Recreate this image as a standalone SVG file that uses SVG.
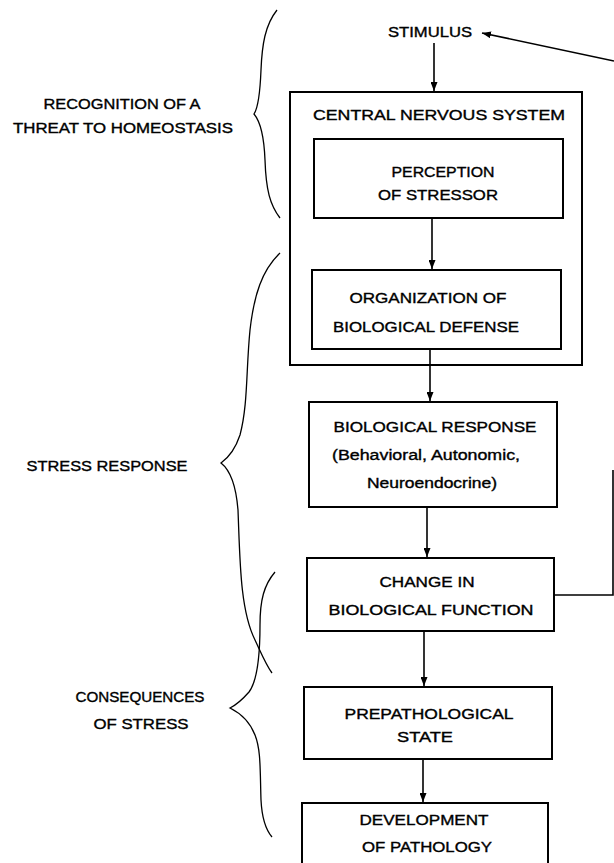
<svg xmlns="http://www.w3.org/2000/svg" width="614" height="863" viewBox="0 0 614 863">
<style>
text{font-family:"Liberation Sans",Arial,sans-serif;font-size:14px;fill:#000;stroke:#000;stroke-width:0.35;text-anchor:middle;}
.box{fill:none;stroke:#000;stroke-width:2;}
.conn{fill:none;stroke:#000;stroke-width:1.6;}
.brace{fill:none;stroke:#000;stroke-width:1.3;}
</style>
<defs>
<marker id="ah" viewBox="0 0 9 7" refX="9" refY="3.5" markerWidth="9" markerHeight="7" markerUnits="userSpaceOnUse" orient="auto">
<path d="M0,0 L9,3.5 L0,7 Z" fill="#000"/>
</marker>
</defs>
<rect width="614" height="863" fill="#fff"/>

<g id="braces">
<path class="brace" d="M277,10 C265,25 262,45 261,70 C260,95 258,108 254,114 C259,120 264,135 265,160 C266,190 270,205 280,218"/>
<path class="brace" d="M280,253 C262,270 254,295 250,330 C246,370 248,405 240,435 C235,450 228,458 221,463 C230,470 236,485 238,510 C240,560 240,610 255,640 C262,655 266,665 272,673"/>
<path class="brace" d="M275,572 C264,585 260,600 260,625 C260,655 258,680 249,692 C242,700 236,705 230,708 C240,713 250,722 255,735 C261,750 260,770 261,800 C262,820 266,830 272,837"/>
</g>

<g id="labels">
<text x="122" y="109" textLength="157" lengthAdjust="spacingAndGlyphs">RECOGNITION OF A</text>
<text x="123" y="133" textLength="220" lengthAdjust="spacingAndGlyphs">THREAT TO HOMEOSTASIS</text>
<text x="107" y="471" textLength="161" lengthAdjust="spacingAndGlyphs">STRESS RESPONSE</text>
<text x="140" y="702" textLength="129" lengthAdjust="spacingAndGlyphs">CONSEQUENCES</text>
<text x="141" y="729" textLength="95" lengthAdjust="spacingAndGlyphs">OF STRESS</text>
</g>

<g id="stimulus">
<text x="430" y="37" textLength="84" lengthAdjust="spacingAndGlyphs">STIMULUS</text>
</g>

<g id="cns">
<rect class="box" x="290" y="92" width="292" height="273"/>
<text x="439" y="120" textLength="252" lengthAdjust="spacingAndGlyphs">CENTRAL NERVOUS SYSTEM</text>
</g>

<g id="perception">
<rect class="box" x="314" y="139" width="249" height="79"/>
<text x="443" y="177" textLength="103" lengthAdjust="spacingAndGlyphs">PERCEPTION</text>
<text x="438" y="200" textLength="120" lengthAdjust="spacingAndGlyphs">OF STRESSOR</text>
</g>

<g id="organization">
<rect class="box" x="312" y="270" width="249" height="79"/>
<text x="428" y="303" textLength="157" lengthAdjust="spacingAndGlyphs">ORGANIZATION OF</text>
<text x="426" y="332" textLength="186" lengthAdjust="spacingAndGlyphs">BIOLOGICAL DEFENSE</text>
</g>

<g id="response">
<rect class="box" x="309" y="402" width="248" height="105"/>
<text x="435" y="432" textLength="203" lengthAdjust="spacingAndGlyphs">BIOLOGICAL RESPONSE</text>
<text x="426" y="460" textLength="188" lengthAdjust="spacingAndGlyphs">(Behavioral, Autonomic,</text>
<text x="432" y="488" textLength="130" lengthAdjust="spacingAndGlyphs">Neuroendocrine)</text>
</g>

<g id="change">
<rect class="box" x="307" y="558" width="247" height="73"/>
<text x="427" y="587" textLength="95" lengthAdjust="spacingAndGlyphs">CHANGE IN</text>
<text x="431" y="615" textLength="205" lengthAdjust="spacingAndGlyphs">BIOLOGICAL FUNCTION</text>
</g>

<g id="prepathological">
<rect class="box" x="304" y="687" width="248" height="72"/>
<text x="429" y="719" textLength="169" lengthAdjust="spacingAndGlyphs">PREPATHOLOGICAL</text>
<text x="425" y="742" textLength="56" lengthAdjust="spacingAndGlyphs">STATE</text>
</g>

<g id="pathology">
<rect class="box" x="302" y="803" width="246" height="80"/>
<text x="424" y="825" textLength="129" lengthAdjust="spacingAndGlyphs">DEVELOPMENT</text>
<text x="427" y="852" textLength="130" lengthAdjust="spacingAndGlyphs">OF PATHOLOGY</text>
</g>

<g id="connectors">
<path class="conn" d="M434,43 V91" marker-end="url(#ah)"/>
<path class="conn" d="M432,218 V269" marker-end="url(#ah)"/>
<path class="conn" d="M430,349 V401" marker-end="url(#ah)"/>
<path class="conn" d="M427,507 V557" marker-end="url(#ah)"/>
<path class="conn" d="M424,631 V686" marker-end="url(#ah)"/>
<path class="conn" d="M423,759 V802" marker-end="url(#ah)"/>
<path class="conn" d="M554,595 H613 V470"/>
<path class="conn" d="M614,61 L482,33" marker-end="url(#ah)"/>
</g>
</svg>
